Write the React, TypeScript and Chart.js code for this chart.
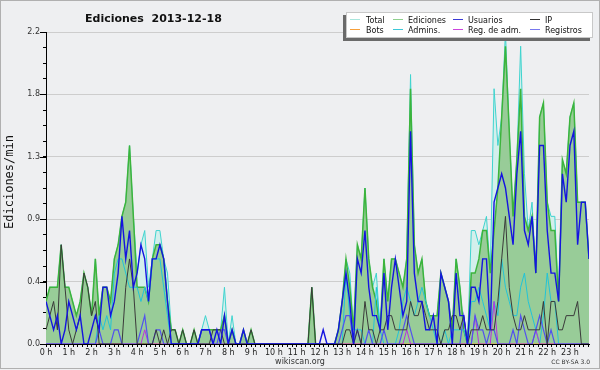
import React, { useEffect, useRef } from 'react';
import { Chart, registerables } from 'chart.js';

Chart.register(...registerables);

const TITLE = 'Ediciones  2013-12-18';
const Y_TITLE = 'Ediciones/min';
const HOUR_LABELS = ['0 h','1 h','2 h','3 h','4 h','5 h','6 h','7 h','8 h','9 h','10 h','11 h','12 h','13 h','14 h','15 h','16 h','17 h','18 h','19 h','20 h','21 h','22 h','23 h'];
const Y_LABELS = ['0.0', '0.4', '0.9', '1.3', '1.8', '2.2'];
const Y_MAX = 2.2;

// 10-minute bins, edits per minute (6 values per hour)
const TOTAL = [
  0.3,0.4,0.4,0.4,0.7,0.4, 0.4,0.3,0.2,0.3,0.5,0.4, 0.2,0.6,0.2,0.4,0.4,0.3, 0.6,0.7,0.9,1.0,1.4,0.9,
  0.5,0.7,0.8,0.4,0.6,0.8, 0.8,0.6,0.5,0.1,0.1,0, 0.1,0,0,0.1,0,0.1, 0.2,0.1,0.1,0.1,0.1,0.4,
  0,0.2,0,0,0.1,0, 0.1,0,0,0,0,0, 0,0,0,0,0,0, 0,0,0,0,0.4,0,
  0,0,0,0,0,0.1, 0.3,0.6,0.5,0.1,0.7,0.6, 1.1,0.6,0.4,0.5,0.1,0.6, 0.3,0.6,0.6,0.5,0.4,0.6,
  1.9,0.7,0.5,0.6,0.3,0.2, 0.2,0.2,0.5,0.4,0.3,0.1, 0.6,0.4,0.1,0,0.8,0.8, 0.7,0.8,0.9,0.5,1.8,1.4,
  1.6,2.2,1.5,0.9,1.3,2.1, 1.2,0.8,1.0,0.5,1.6,1.7, 1.0,0.9,0.9,0.3,1.3,1.2, 1.6,1.7,1.0,1.0,1.0,0.6
];
const EDICIONES = [
  0.3,0.4,0.4,0.4,0.7,0.4, 0.4,0.3,0.2,0.3,0.5,0.4, 0.2,0.6,0.2,0.4,0.4,0.3, 0.6,0.7,0.9,1.0,1.4,0.9,
  0.4,0.4,0.4,0.3,0.6,0.7, 0.7,0.6,0.3,0.1,0.1,0, 0.1,0,0,0.1,0,0.1, 0.1,0.1,0.1,0.1,0.1,0.2,
  0,0.1,0,0,0.1,0, 0.1,0,0,0,0,0, 0,0,0,0,0,0, 0,0,0,0,0.4,0,
  0,0,0,0,0,0.1, 0.3,0.6,0.4,0.1,0.7,0.6, 1.1,0.6,0.4,0.3,0.1,0.6, 0.3,0.6,0.6,0.5,0.4,0.6,
  1.8,0.7,0.5,0.6,0.3,0.2, 0.2,0.2,0.5,0.4,0.3,0.1, 0.6,0.4,0.1,0,0.5,0.5, 0.6,0.8,0.8,0.5,0.8,1.1,
  1.6,2.1,1.5,0.9,1.3,1.8, 0.9,0.8,0.9,0.5,1.6,1.7, 1.0,0.8,0.8,0.3,1.3,1.2, 1.6,1.7,1.0,1.0,1.0,0.6
];
const USUARIOS = [
  0.3,0.2,0.1,0.2,0,0.1, 0.3,0.2,0.1,0.2,0,0, 0.1,0.2,0.1,0.4,0.4,0.2, 0.3,0.5,0.9,0.6,0.8,0.4,
  0.5,0.7,0.6,0.3,0.6,0.6, 0.7,0.6,0.3,0,0,0, 0,0,0,0,0,0.1, 0.1,0.1,0,0.1,0,0.2,
  0,0.1,0,0,0.1,0, 0,0,0,0,0,0, 0,0,0,0,0,0, 0,0,0,0,0,0,
  0,0.1,0,0,0,0.1, 0.3,0.5,0.3,0,0.6,0.5, 0.8,0.4,0.2,0.2,0.1,0.5, 0.1,0.4,0.6,0.4,0.2,0.3,
  1.5,0.5,0.3,0.3,0.1,0.1, 0.2,0,0.5,0.4,0.3,0, 0.5,0.2,0.2,0,0.4,0.4, 0.3,0.6,0.6,0.1,1.0,1.1,
  1.2,1.1,0.9,0.7,1.2,1.5, 0.8,0.7,0.9,0.5,1.4,1.4, 0.8,0.5,0.5,0.3,1.2,1.0, 1.4,1.5,0.7,1.0,1.0,0.6
];
const IP = [
  0.1,0.2,0.3,0.1,0.7,0.4, 0.1,0,0.1,0.2,0.5,0.4, 0.2,0.3,0,0,0,0, 0,0,0,0.4,0.6,0.4,
  0,0,0,0,0,0.1, 0,0.1,0,0.1,0.1,0, 0.1,0,0,0.1,0,0, 0,0,0.1,0.1,0.1,0,
  0,0,0,0,0,0, 0.1,0,0,0,0,0, 0,0,0,0,0,0, 0,0,0,0,0.4,0,
  0,0,0,0,0,0, 0,0.1,0.1,0,0.1,0, 0.3,0.1,0.1,0,0.1,0.1, 0.2,0.2,0.1,0.1,0.1,0.1,
  0.3,0.2,0.2,0.3,0.2,0.1, 0.1,0.1,0,0.1,0.1,0.2, 0.2,0.1,0.2,0,0.1,0.1, 0.1,0.2,0.1,0.1,0.1,0.3,
  0.6,0.9,0.4,0.2,0.1,0.1, 0.2,0.1,0.1,0.1,0.1,0.3, 0,0.3,0.3,0.1,0.1,0.2, 0.2,0.2,0.3,0,0,0
];
const BOTS = [
  0,0,0,0,0,0, 0,0,0,0,0,0, 0,0,0,0,0,0, 0,0,0,0,0,0,
  0,0,0,0,0,0, 0,0,0,0,0,0, 0,0,0,0,0,0, 0,0,0,0,0,0,
  0,0,0,0,0,0, 0,0,0,0,0,0, 0,0,0,0,0,0, 0,0,0,0,0,0,
  0,0,0,0,0,0, 0,0,0,0,0,0, 0,0,0,0,0,0, 0,0,0,0,0,0,
  0,0,0,0,0,0, 0,0,0,0,0,0, 0,0,0,0,0,0, 0,0,0,0,0,0,
  0,0,0,0,0,0, 0,0,0,0,0,0, 0,0,0,0,0,0, 0,0,0,0,0,0
];
const ADMINS = [
  0,0,0,0,0,0, 0,0,0,0,0,0, 0,0,0.2,0.1,0.2,0.1, 0.5,0.6,0.6,0.5,0.4,0.4,
  0.4,0.3,0.4,0.3,0.6,0.6, 0.6,0.4,0.2,0,0,0, 0,0,0,0,0,0, 0,0,0,0,0,0,
  0,0,0,0,0,0, 0,0,0,0,0,0, 0,0,0,0,0,0, 0,0,0,0,0,0,
  0,0,0,0,0,0, 0,0.5,0.2,0.1,0.1,0.1, 0,0,0,0.4,0.1,0, 0,0,0,0.1,0.3,0.4,
  0.3,0.2,0.3,0.4,0.3,0.2, 0.1,0,0,0.1,0,0.1, 0.1,0.1,0.1,0,0.3,0.3, 0.4,0.3,0.2,0.1,0.3,0.2,
  0.6,0.4,0.3,0.2,0.2,0.4, 0.5,0.3,0.2,0.1,0,0.2, 0.5,0.3,0.3,0,0,0, 0,0,0,0,0,0
];
const REG_ADM = [
  0,0,0,0,0,0, 0,0,0,0,0,0, 0,0,0,0,0,0, 0,0,0,0,0,0,
  0,0,0.1,0,0,0, 0,0,0,0,0,0, 0,0,0,0,0,0, 0,0,0,0,0,0,
  0,0,0,0,0,0, 0,0,0,0,0,0, 0,0,0,0,0,0, 0,0,0,0,0,0,
  0,0,0,0,0,0, 0,0,0,0,0,0, 0,0,0,0,0,0, 0,0,0,0,0,0.1,
  0,0,0,0,0,0, 0,0,0,0,0,0, 0,0,0,0,0,0.2, 0,0,0,0,0.3,0,
  0,0,0,0,0,0, 0,0,0,0.1,0,0, 0,0,0,0,0,0, 0,0,0,0,0,0
];
const REGISTROS = [
  0,0,0,0,0,0, 0,0,0,0,0,0, 0,0,0.1,0,0,0, 0.1,0.1,0,0,0,0,
  0,0.1,0.2,0,0,0.1, 0.1,0,0,0,0,0, 0,0,0,0,0,0.1, 0.1,0.1,0,0,0.1,0.1,
  0,0,0,0,0,0, 0,0,0,0,0,0, 0,0,0,0,0,0, 0,0,0,0,0,0,
  0,0,0,0,0,0, 0.1,0.2,0.2,0,0.1,0, 0,0.1,0,0,0,0.1, 0,0,0,0,0.1,0.2,
  0.1,0,0,0,0,0, 0,0,0,0,0,0, 0,0,0.2,0,0,0.2, 0.1,0.1,0,0.1,0.1,0,
  0,0,0,0.1,0,0.2, 0.1,0,0,0.1,0.2,0.1, 0,0.1,0,0,0,0, 0,0,0,0,0,0
];

const SERIES_NAMES = ['Total', 'Ediciones', 'Usuarios', 'IP', 'Bots', 'Admins.', 'Reg. de adm.', 'Registros'];
const LEGEND_COLORS = ['#a9e6dd', '#8fd08f', '#3a3ad6', '#333333', '#f7a03a', '#3cc8d8', '#cc44dd', '#7878ee'];

const pts = (arr: number[]) => arr.map((y, x) => ({ x, y }));

const decorPlugin = {
  id: 'decor',
  beforeDraw(chart: any) {
    const c = chart.ctx;
    c.save();
    c.fillStyle = '#eeeff1';
    c.fillRect(0, 0, chart.width, chart.height);
    c.strokeStyle = '#b0b0b0';
    c.lineWidth = 1;
    c.strokeRect(0.5, 0.5, chart.width - 1, chart.height - 2);
    c.restore();
  },
  afterDraw(chart: any) {
    const c = chart.ctx;
    const ys = chart.scales.y;
    c.save();
    // longer major ticks on the y axis
    c.strokeStyle = '#000';
    c.lineWidth = 1;
    for (let k = 0; k < Y_LABELS.length; k++) {
      const py = Math.round(ys.getPixelForValue((k * 44) / 100)) + 0.5;
      c.beginPath();
      c.moveTo(40, py);
      c.lineTo(46, py);
      c.stroke();
    }
    // title
    c.fillStyle = '#111';
    c.font = 'bold 11px "DejaVu Sans"';
    c.textAlign = 'left';
    c.textBaseline = 'alphabetic';
    c.fillText(TITLE, 85, 22);
    // y title
    c.save();
    c.translate(13, 182);
    c.rotate(-Math.PI / 2);
    c.font = '12px "DejaVu Sans Mono"';
    c.textAlign = 'center';
    c.fillStyle = '#111';
    c.fillText(Y_TITLE, 0, 0);
    c.restore();
    // footer
    c.fillStyle = '#333';
    c.font = '8px "DejaVu Sans"';
    c.textAlign = 'center';
    c.fillText('wikiscan.org', 300, 364);
    c.font = '6px "DejaVu Sans"';
    c.textAlign = 'right';
    c.fillText('CC BY-SA 3.0', 590, 364);
    // legend
    const bx = 346, by = 12, bw = 247, bh = 26;
    c.fillStyle = '#6a6a6a';
    c.fillRect(bx - 3, by + 3, bw, bh);
    c.fillStyle = '#ffffff';
    c.fillRect(bx, by, bw, bh);
    c.strokeStyle = '#c8c8c8';
    c.strokeRect(bx + 0.5, by + 0.5, bw - 1, bh - 1);
    const colSample = [350, 393, 453, 530];
    const colText = [366, 408, 468, 545];
    const rowY = [19.5, 29.5];
    const rowBase = [22.5, 32.5];
    c.font = '8px "DejaVu Sans"';
    c.textAlign = 'left';
    SERIES_NAMES.forEach((name, i) => {
      const col = i % 4, row = Math.floor(i / 4);
      c.strokeStyle = LEGEND_COLORS[i];
      c.lineWidth = 1;
      c.beginPath();
      c.moveTo(colSample[col], rowY[row]);
      c.lineTo(colSample[col] + 10, rowY[row]);
      c.stroke();
      c.fillStyle = '#111';
      c.fillText(name, colText[col], rowBase[row]);
    });
    c.restore();
  },
};

export default function App() {
  const ref = useRef<HTMLCanvasElement | null>(null);
  useEffect(() => {
    if (!ref.current) return;
    const line = (label: string, data: number[], color: string, width: number, order: number, extra: any = {}) => ({
      label,
      data: pts(data),
      borderColor: color,
      borderWidth: width,
      backgroundColor: color,
      fill: false,
      pointRadius: 0,
      tension: 0,
      order,
      ...extra,
    });
    const chart = new Chart(ref.current, {
      type: 'line',
      data: {
        datasets: [
          line(SERIES_NAMES[0], TOTAL, '#3fd4cf', 1, 10, { fill: 'origin', backgroundColor: '#d3efec' }),
          line(SERIES_NAMES[1], EDICIONES, '#3cb43c', 1.5, 9, { fill: 'origin', backgroundColor: '#98cc98' }),
          line(SERIES_NAMES[4], BOTS, '#f7a03a', 1, 8),
          line(SERIES_NAMES[5], ADMINS, '#22c4d8', 1, 7),
          line(SERIES_NAMES[6], REG_ADM, '#b833dd', 1, 6),
          line(SERIES_NAMES[7], REGISTROS, '#5252ee', 1.2, 5),
          line(SERIES_NAMES[3], IP, '#3a3a3a', 1, 4),
          line(SERIES_NAMES[2], USUARIOS, '#1414e0', 1.4, 3),
        ],
      },
      options: {
        responsive: false,
        animation: false,
        devicePixelRatio: 1,
        layout: { padding: { left: 0, right: 11, top: 32, bottom: 0 } },
        plugins: { legend: { display: false }, tooltip: { enabled: false }, title: { display: false } },
        scales: {
          x: {
            type: 'linear',
            min: 0,
            max: 143,
            z: 1,
            afterBuildTicks: (s: any) => {
              s.ticks = Array.from({ length: 120 }, (_, k) => ({ value: (k * 6) / 5 }));
            },
            afterFit: (s: any) => { s.height = 26; },
            ticks: {
              autoSkip: false,
              maxRotation: 0,
              minRotation: 0,
              padding: 1,
              color: '#222',
              font: { family: 'DejaVu Sans', size: 8 },
              callback: (_v: any, i: number) => (i % 5 === 0 ? HOUR_LABELS[i / 5] : ''),
            },
            grid: { drawOnChartArea: false, tickLength: 3, tickColor: '#000', color: '#000' },
            border: { color: '#000', width: 1 },
          },
          y: {
            min: 0,
            max: Y_MAX,
            z: 1,
            afterBuildTicks: (s: any) => {
              s.ticks = Array.from({ length: 21 }, (_, k) => ({ value: (k * 11) / 100 }));
            },
            afterFit: (s: any) => { s.width = 46; },
            ticks: {
              autoSkip: false,
              padding: 3,
              color: '#333',
              font: { family: 'DejaVu Sans', size: 8 },
              callback: (_v: any, i: number) => (i % 4 === 0 ? Y_LABELS[i / 4] : ''),
            },
            grid: {
              color: (ctx: any) => (ctx.index % 4 === 0 && ctx.index > 0 ? '#cdcdcd' : 'rgba(0,0,0,0)'),
              tickColor: '#000',
              tickLength: 3,
            },
            border: { color: '#000', width: 1 },
          },
        },
      },
      plugins: [decorPlugin],
    } as any);
    return () => chart.destroy();
  }, []);
  return (
    <div style={{ position: 'fixed', left: 0, top: 0, width: 600, height: 370 }}>
      <canvas ref={ref} width={600} height={370} style={{ display: 'block' }} />
    </div>
  );
}
